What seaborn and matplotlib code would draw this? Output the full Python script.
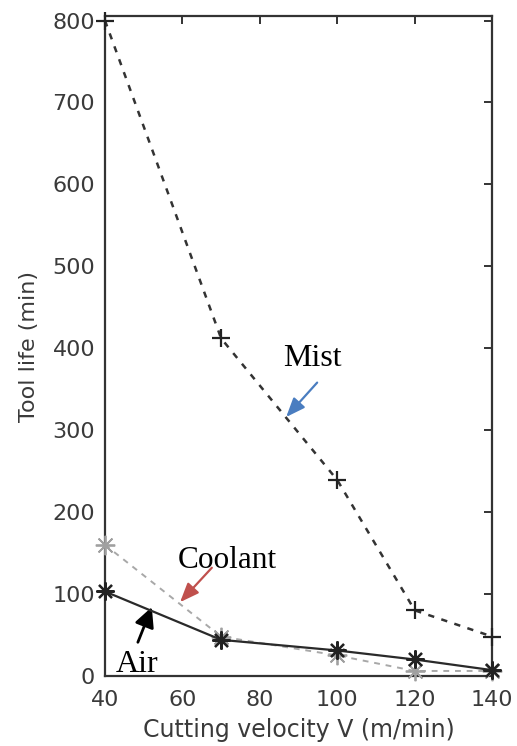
import matplotlib
matplotlib.use("Agg")
import matplotlib.pyplot as plt
import seaborn as sns
import pandas as pd

# Cutting velocity (m/min) and measured tool life (min) per lubrication mode
velocity = [40, 70, 100, 120, 140]
life_mist = [800, 412, 239, 80, 48]
life_coolant = [160, 48, 25, 6, 6]
life_air = [103, 44, 31, 20, 7]

x_ticks = [40, 60, 80, 100, 120, 140]
y_ticks = [0, 100, 200, 300, 400, 500, 600, 700, 800]

sns.set_theme(style="white")
plt.rcParams["font.family"] = ["DejaVu Sans"]

fig = plt.figure(figsize=(5.17, 7.46), dpi=100)
ax = fig.add_axes([0.203, 0.094, 0.749, 0.884])

df_mist = pd.DataFrame({"V": velocity, "T": life_mist})
df_cool = pd.DataFrame({"V": velocity, "T": life_coolant})
df_air = pd.DataFrame({"V": velocity, "T": life_air})

# eight-ray asterisk marker
asterisk = (8, 2, 0)

sns.lineplot(data=df_mist, x="V", y="T", ax=ax, color="#333333",
             linestyle=(0, (2.5, 3)), linewidth=1.8, marker="+",
             markersize=13, markeredgewidth=1.6, markeredgecolor="#222222",
             clip_on=False, zorder=3)
sns.lineplot(data=df_cool, x="V", y="T", ax=ax, color="#a8a8a8",
             linestyle=(0, (3, 3)), linewidth=1.4, marker=asterisk,
             markersize=14, markeredgewidth=1.3,
             markeredgecolor="#a0a0a0", clip_on=False, zorder=3)
sns.lineplot(data=df_air, x="V", y="T", ax=ax, color="#2a2a2a",
             linestyle="-", linewidth=1.6, marker=asterisk, markersize=13,
             markeredgewidth=1.6, markeredgecolor="#222222",
             clip_on=False, zorder=4)

ax.set_xlim(40, 140)
ax.set_ylim(0, 805)
ax.set_xticks(x_ticks)
ax.set_yticks(y_ticks)
ax.tick_params(direction="in", length=6, width=1.4, top=True, right=True,
               labelsize=16, labelcolor="#3a3a3a", color="#333333")
ax.tick_params(axis="y", pad=7)
ax.tick_params(axis="x", pad=10)
for side in ax.spines.values():
    side.set_color("#333333")
    side.set_linewidth(1.6)

ax.set_xlabel("Cutting velocity V (m/min)", fontsize=17, color="#3a3a3a", labelpad=6)
ax.set_ylabel("Tool life (min)", fontsize=16, color="#3a3a3a", labelpad=10)

serif = ["Liberation Serif", "DejaVu Serif"]
ax.text(93.7, 387, "Mist", ha="center", va="center", fontsize=23, family=serif, color="black")
ax.text(71.5, 141, "Coolant", ha="center", va="center", fontsize=22.5, family=serif, color="black")
ax.text(48.3, 14, "Air", ha="center", va="center", fontsize=23, family=serif, color="black")

ax.annotate("", xy=(86.8, 316), xytext=(94.8, 358),
            arrowprops=dict(arrowstyle="-|>,head_length=0.55,head_width=0.22",
                            color="#4a7dc0", lw=1.6, mutation_scale=21,
                            shrinkA=0, shrinkB=0))
ax.annotate("", xy=(59.4, 90), xytext=(67.6, 132),
            arrowprops=dict(arrowstyle="-|>,head_length=0.55,head_width=0.22",
                            color="#c0504d", lw=1.6, mutation_scale=21,
                            shrinkA=0, shrinkB=0))
ax.annotate("", xy=(52.1, 84), xytext=(48.5, 41),
            arrowprops=dict(arrowstyle="-|>,head_length=0.6,head_width=0.3",
                            color="black", lw=2.0, mutation_scale=20,
                            shrinkA=0, shrinkB=0))

fig.savefig("out.png", dpi=100, facecolor="white")
